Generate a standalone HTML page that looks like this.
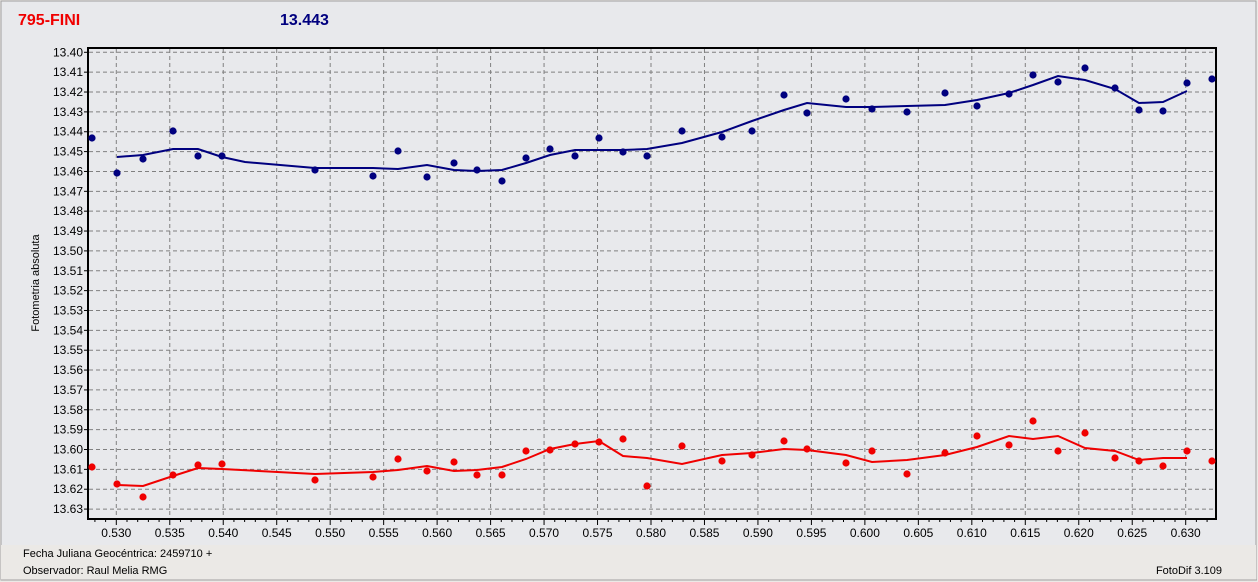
<!DOCTYPE html>
<html><head><style>
body{margin:0;background:#e8e8e8;}
svg{display:block;font-family:"Liberation Sans",sans-serif;}
</style></head><body>
<svg width="1258" height="582" xmlns="http://www.w3.org/2000/svg">
<rect x="0" y="0" width="1258" height="582" fill="#ebe9e6"/>
<rect x="1" y="1" width="1255" height="579" fill="#e8e9ec" stroke="#a0a0a0"/>
<rect x="1" y="545" width="1255" height="35" fill="#ebe9e6"/>
<line x1="1" y1="580" x2="1257" y2="580" stroke="#a0a0a0"/>
<text x="18" y="25" font-size="16" font-weight="bold" fill="#f00000">795-FINI</text>
<text x="280" y="25" font-size="16" font-weight="bold" fill="#00007f">13.443</text>
<g id="grid" stroke="#808080" stroke-dasharray="4,3" stroke-width="1"></g>
<g id="labels" font-size="12" fill="#000"></g>
<rect x="88" y="48" width="1128" height="471" fill="none" stroke="#000" stroke-width="2"/>
<text transform="translate(39,283) rotate(-90)" font-size="11" text-anchor="middle">Fotometria absoluta</text>
<text x="23" y="557" font-size="11">Fecha Juliana Geocéntrica: 2459710 +</text>
<text x="23" y="574" font-size="11">Observador: Raul Melia RMG</text>
<text x="1222" y="574" font-size="11" text-anchor="end">FotoDif 3.109</text>
<polyline fill="none" stroke="#00007f" stroke-width="2" points="117,157 143,155 173,149 198,149 222,157 245,162 315,168 373,168 398,169 427,165 454,170 477,171 502,170 526,163 550,155 575,150 623,150 647,149 682,143 722,132 752,121 784,110 807,103 846,107 872,107 907,106 945,105 977,100 1009,93 1033,85 1058,76 1085,80 1115,89 1139,103 1163,102 1187,91"/>
<polyline fill="none" stroke="#f00000" stroke-width="2" points="117,485 143,486 173,476 198,468 222,469 315,474 373,472 398,470 427,466 454,471 477,470 502,467 526,459 550,449 575,444 599,441 623,456 647,458 682,464 722,455 752,453 784,449 807,450 846,455 872,462 907,460 945,455 977,447 1009,436 1033,439 1058,436 1085,448 1115,451 1139,460 1163,458 1187,458"/>
<g id="pts"></g>
<script>
var ns="http://www.w3.org/2000/svg";
function el(p,t,a,txt){var e=document.createElementNS(ns,t);for(var k in a)e.setAttribute(k,a[k]);if(txt)e.textContent=txt;document.getElementById(p).appendChild(e);}
for(var i=0;i<=23;i++){var y=52.3+i*19.86;el("grid","line",{x1:89,x2:1215,y1:y,y2:y});
el("grid","line",{x1:84,x2:89,y1:y,y2:y,"stroke-dasharray":"none","stroke":"#000"});
el("labels","text",{x:83,y:y+4,"text-anchor":"end"},(13.40+i*0.01).toFixed(2));}
for(var j=0;j<=20;j++){var x=116.3+j*53.47;el("grid","line",{x1:x,x2:x,y1:49,y2:518});
el("grid","line",{x1:x,x2:x,y1:519,y2:525,"stroke-dasharray":"none","stroke":"#000"});
el("labels","text",{x:x,y:537,"text-anchor":"middle"},(0.530+j*0.005).toFixed(3));}
for(var m=-2;m<=104;m++){var x=116.3+m*10.694;if(x<89||x>1215||m%5==0)continue;el("grid","line",{x1:x,x2:x,y1:519,y2:522,"stroke-dasharray":"none","stroke":"#000"});}
var b=[[92,138],[117,173],[143,159],[173,131],[198,156],[222,156],[315,170],[373,176],[398,151],[427,177],[454,163],[477,170],[502,181],[526,158],[550,149],[575,156],[599,138],[623,152],[647,156],[682,131],[722,137],[752,131],[784,95],[807,113],[846,99],[872,109],[907,112],[945,93],[977,106],[1009,94],[1033,75],[1058,82],[1085,68],[1115,88],[1139,110],[1163,111],[1187,83],[1212,79]];
var r=[[92,467],[117,484],[143,497],[173,475],[198,465],[222,464],[315,480],[373,477],[398,459],[427,471],[454,462],[477,475],[502,475],[526,451],[550,450],[575,444],[599,442],[623,439],[647,486],[682,446],[722,461],[752,455],[784,441],[807,449],[846,463],[872,451],[907,474],[945,453],[977,436],[1009,445],[1033,421],[1058,451],[1085,433],[1115,458],[1139,461],[1163,466],[1187,451],[1212,461]];
b.forEach(function(p){el("pts","circle",{cx:p[0],cy:p[1],r:3.6,fill:"#00007f"});});
r.forEach(function(p){el("pts","circle",{cx:p[0],cy:p[1],r:3.6,fill:"#f00000"});});
</script>
</svg>
</body></html>
